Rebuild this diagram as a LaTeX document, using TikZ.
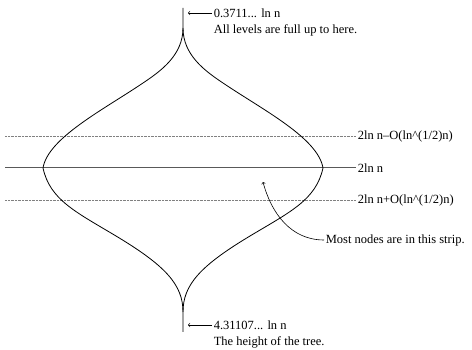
\documentclass[tikz,border=0pt]{standalone}
\usepackage{fontspec}
\setmainfont{Liberation Serif}
\usetikzlibrary{arrows,positioning}

\begin{document}
\begin{tikzpicture}[x=1pt, y=-1pt, >=to, semithick,
    lbl/.style={anchor=west, inner sep=1.5pt, font=\fontsize{12.5}{15}\selectfont},
    level/.style={gray, densely dotted, thin},
    tree/.style={black, line width=0.8pt}]
    \useasboundingbox (0,0) rectangle (472,350);

    % levels of the tree
    \node[lbl] (minus) at (356,136) {2ln n--O(ln\^{}(1/2)n)};
    \node[lbl] (mid)   at (356,168) {2ln n};
    \node[lbl] (plus)  at (356,200) {2ln n+O(ln\^{}(1/2)n)};
    \coordinate (minusl) at (5,136);
    \coordinate (midl)   at (5,168);
    \coordinate (plusl)  at (5,200);
    \draw[level] (minusl) -- (minus.west);
    \draw[level] (plusl) -- (plus.west);
    \draw[gray!70!black, line width=1pt] (midl) -- (mid.west);

    % outline of the tree
    \draw[tree] (183,8) -- (183,28)
        .. controls (183,55) and (205,71) .. (223,83)
        .. controls (263,110) and (318,138) .. (323,168)
        .. controls (316,200) and (290,212) .. (250,236)
        .. controls (200,266) and (183,285) .. (183,312) -- (183,332);
    \draw[tree] (183,28)
        .. controls (183,55) and (161,71) .. (143,83)
        .. controls (103,110) and (48,138) .. (43,168)
        .. controls (50,200) and (76,212) .. (116,236)
        .. controls (166,266) and (183,285) .. (183,312);

    % top and bottom
    \node[lbl] (full) at (212,13) {0.3711... ln n};
    \node[lbl, below=4pt of full.south west, anchor=north west] (fulltxt) {All levels are full up to here.};
    \node[lbl] (height) at (212,325) {4.31107... ln n};
    \node[lbl, below=4pt of height.south west, anchor=north west] (heighttxt) {The height of the tree.};
    \coordinate (toptip) at (188,13);
    \coordinate (bottip) at (188,325);
    \draw[->] (full.west) -- (toptip);
    \draw[->] (height.west) -- (bottip);

    % the strip
    \node[lbl] (strip) at (324,240) {Most nodes are in this strip.};
    \coordinate (stripend) at (263,182);
    \draw[->] (strip.west) to[out=180, in=-75] (stripend);
\end{tikzpicture}
\end{document}
